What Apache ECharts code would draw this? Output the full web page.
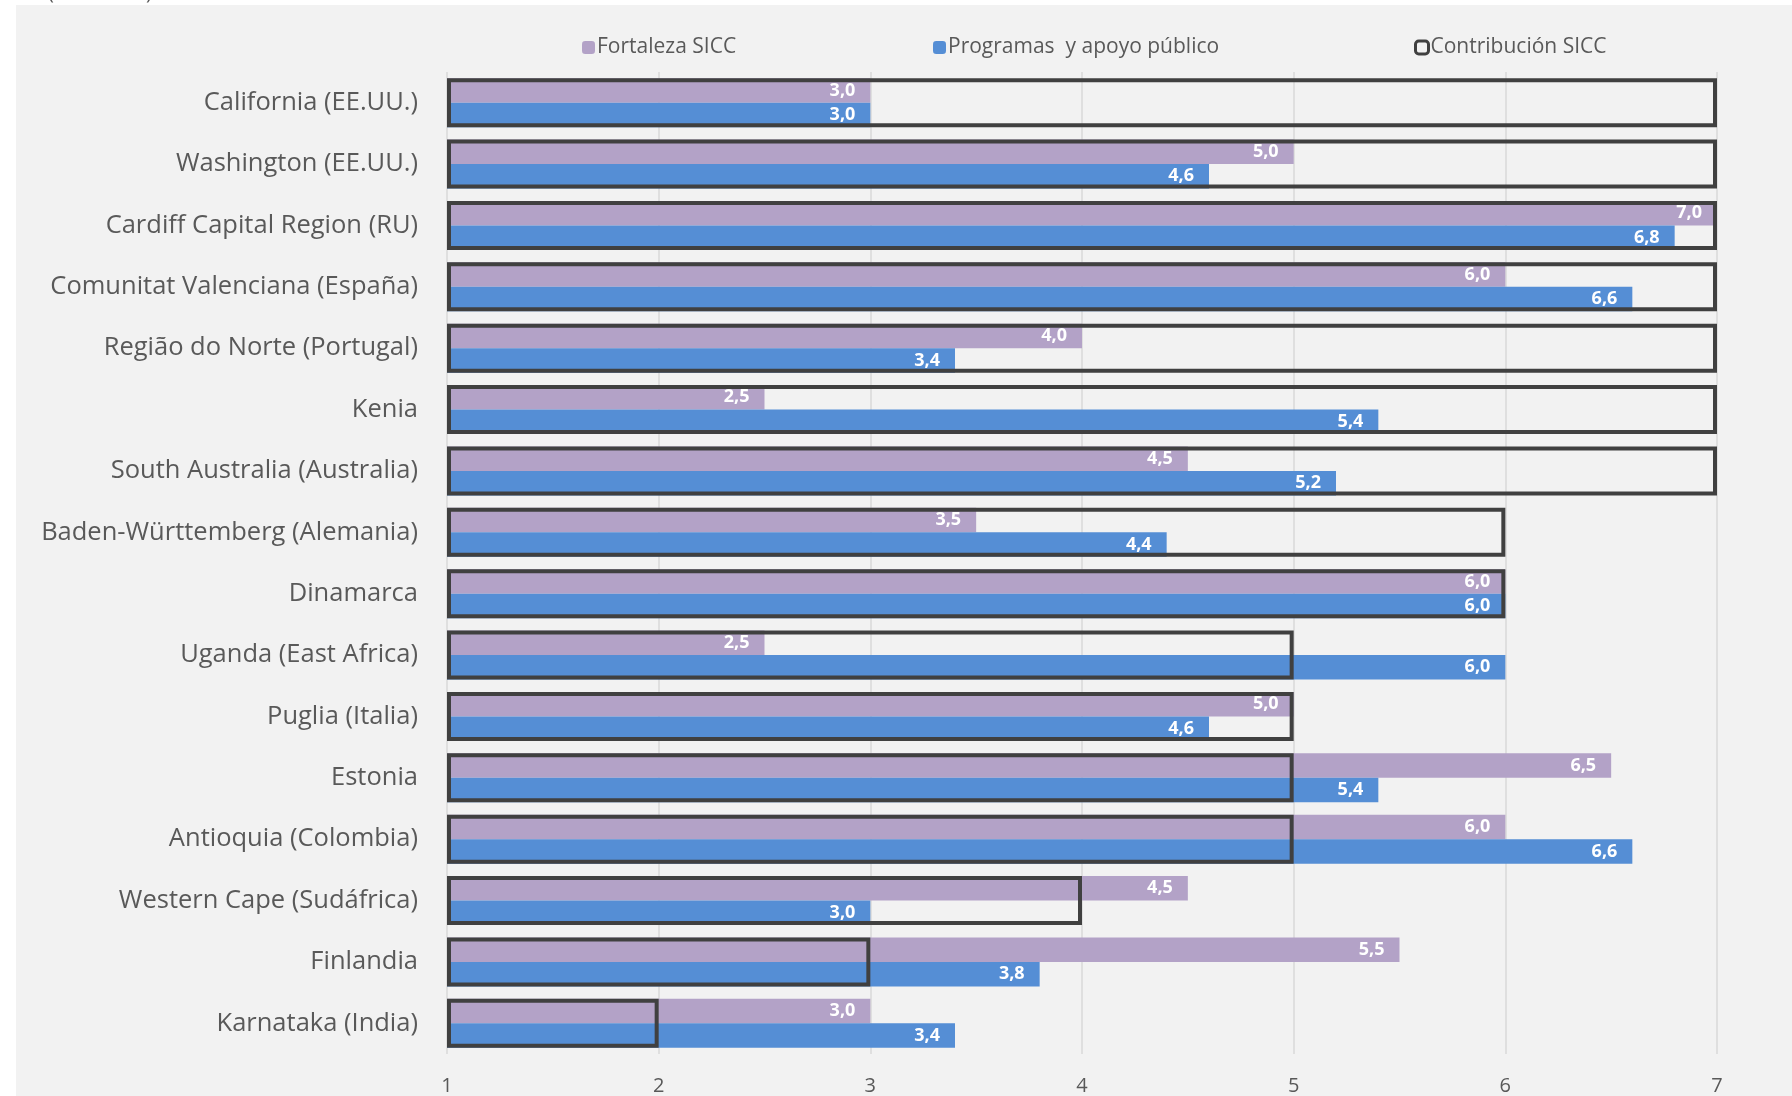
<!DOCTYPE html>
<html>
<head>
<meta charset="utf-8">
<script src="https://cdn.jsdelivr.net/npm/echarts@6/dist/echarts.min.js"></script>
<style>
  html, body { margin: 0; padding: 0; background: #fff; }
  #chart { width: 1792px; height: 1096px; }
</style>
</head>
<body>
<div id="chart"></div>
<script>
// categorías (de arriba abajo)
const regions = [
  'California (EE.UU.)',
  'Washington (EE.UU.)',
  'Cardiff Capital Region (RU)',
  'Comunitat Valenciana (España)',
  'Região do Norte (Portugal)',
  'Kenia',
  'South Australia (Australia)',
  'Baden-Württemberg (Alemania)',
  'Dinamarca',
  'Uganda (East Africa)',
  'Puglia (Italia)',
  'Estonia',
  'Antioquia (Colombia)',
  'Western Cape (Sudáfrica)',
  'Finlandia',
  'Karnataka (India)'
]

const fortaleza = [3.0, 5.0, 7.0, 6.0, 4.0, 2.5, 4.5, 3.5, 6.0, 2.5, 5.0, 6.5, 6.0, 4.5, 5.5, 3.0]
const programas = [3.0, 4.6, 6.8, 6.6, 3.4, 5.4, 5.2, 4.4, 6.0, 6.0, 4.6, 5.4, 6.6, 3.0, 3.8, 3.4]
const contribucion = [7, 7, 7, 7, 7, 7, 7, 6, 6, 5, 5, 5, 5, 4, 3, 2]

const xTicks = [1, 2, 3, 4, 5, 6, 7]

const seriesNames = ['Fortaleza SICC', 'Programas  y apoyo público', 'Contribución SICC']

const textColor = '#595959'
const font = '"Open Sans", "Noto Sans", sans-serif'

const chart = echarts.init(document.getElementById('chart'))

// etiqueta con coma decimal
const barLabel = {
  show: true,
  position: 'insideRight',
  distance: 15,
  color: '#fff',
  fontWeight: 'bold',
  fontSize: 18,
  fontFamily: font,
  formatter: (p) => p.value.toFixed(1).replace('.', ',')
}

const legendBase = {
  top: 37,
  padding: 0,
  itemWidth: 13,
  itemHeight: 13,
  itemGap: 0,
  textStyle: { color: textColor, fontSize: 21, fontFamily: font, padding: [0, 0, 0, -3] }
}

const option = {
  animation: false,
  backgroundColor: '#fff',
  graphic: [
    {
      type: 'rect',
      z: -10,
      shape: { x: 16, y: 5, width: 1776, height: 1091 },
      style: { fill: '#f2f2f2' }
    },
    {
      type: 'text',
      left: 48,
      top: -17,
      style: { text: '(escala 1-7)', fill: textColor, fontSize: 20, fontFamily: font }
    }
  ],
  legend: [
    { ...legendBase, left: 582, data: [seriesNames[0]] },
    { ...legendBase, left: 933, data: [seriesNames[1]] },
    {
      ...legendBase,
      left: 1414,
      data: [{
        name: seriesNames[2],
        itemStyle: { color: '#f2f2f2', borderColor: '#404040', borderWidth: 3 }
      }]
    }
  ],
  grid: {
    left: 447,
    right: 75,
    top: 72,
    bottom: 42,
    containLabel: false
  },
  xAxis: {
    type: 'value',
    min: xTicks[0],
    max: xTicks[xTicks.length - 1],
    interval: 1,
    startValue: 1,
    axisLine: { show: false },
    axisTick: { show: false },
    axisLabel: { color: textColor, fontSize: 20, fontFamily: font, margin: 22 },
    splitLine: { show: true, lineStyle: { color: '#d9d9d9', width: 1.5 } }
  },
  yAxis: [
    {
      type: 'category',
      data: regions,
      inverse: true,
      axisLine: { show: false },
      axisTick: { show: false },
      axisLabel: { color: textColor, fontSize: 25.5, fontFamily: font, margin: 29 }
    },
    {
      type: 'category',
      data: regions,
      inverse: true,
      show: false
    }
  ],
  series: [
    {
      name: seriesNames[0],
      type: 'bar',
      yAxisIndex: 0,
      barWidth: 24.5,
      barGap: '0%',
      data: fortaleza,
      itemStyle: { color: '#b3a2c7' },
      label: barLabel,
      z: 2
    },
    {
      name: seriesNames[1],
      type: 'bar',
      yAxisIndex: 0,
      barWidth: 24.5,
      barGap: '0%',
      data: programas,
      itemStyle: { color: '#558ed5' },
      label: barLabel,
      z: 2
    },
    {
      name: seriesNames[2],
      type: 'bar',
      yAxisIndex: 1,
      barWidth: 49,
      clip: false,
      data: contribucion,
      itemStyle: { color: 'rgba(0,0,0,0)', borderColor: '#404040', borderWidth: 4 },
      z: 5
    }
  ]
}

chart.setOption(option)
</script>
</body>
</html>
